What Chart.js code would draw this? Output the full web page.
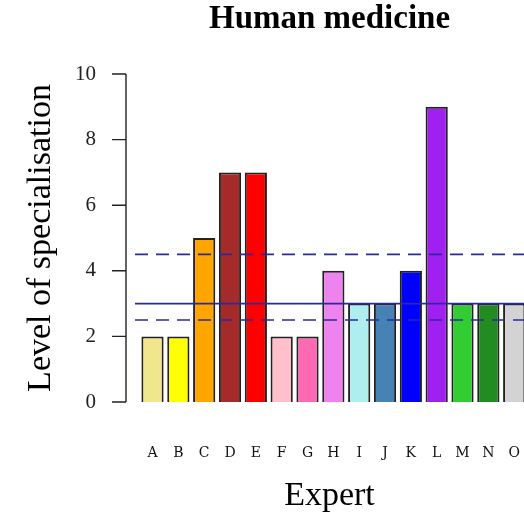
<!DOCTYPE html>
<html>
<head>
<meta charset="utf-8">
<script src="https://cdn.jsdelivr.net/npm/chart.js@4/dist/chart.umd.min.js"></script>
<style>
  html, body { margin: 0; padding: 0; background: #fff; }
  canvas { display: block; }
</style>
</head>
<body>
<canvas id="c" width="524" height="521"></canvas>
<script>
// ---- data ----
const experts = ['A','B','C','D','E','F','G','H','I','J','K','L','M','N','O'];
const specialisation = [2, 2, 5, 7, 7, 2, 2, 4, 3, 3, 4, 9, 3, 3, 3];
const yTicks = [0, 2, 4, 6, 8, 10];
const meanLevel = [3];
const intervalLevels = [2.5, 4.5];

// ---- styles ----
const barColors = ['#F0E68C','#FFFF00','#FFA500','#A52A2A','#FF0000','#FFC0CB','#FF69B4',
  '#EE82EE','#AFEEEE','#4682B4','#0000FF','#A020F0','#32CD32','#228B22','#D3D3D3'];
const lineColor = '#2a2aa0';
const X_MIN = -0.678, X_MAX = 14.38;

const refDataset = (v, dashed) => ({
  type: 'line',
  data: [{x: X_MIN, y: v}, {x: X_MAX, y: v}],
  borderColor: lineColor,
  borderWidth: 1.6,
  borderDash: dashed ? [13, 8] : [],
  pointRadius: 0,
  fill: false,
  order: 1
});

const yAxisPlugin = {
  id: 'rYAxis',
  afterDraw(chart) {
    const y = chart.scales.y;
    const ctx = chart.ctx;
    const ax = chart.chartArea.left - 9;
    ctx.save();
    ctx.strokeStyle = '#222';
    ctx.lineWidth = 1.4;
    ctx.beginPath();
    ctx.moveTo(ax, y.getPixelForValue(yTicks[0]));
    ctx.lineTo(ax, y.getPixelForValue(yTicks[yTicks.length - 1]));
    yTicks.forEach(t => {
      const py = y.getPixelForValue(t);
      ctx.moveTo(ax, py);
      ctx.lineTo(ax - 14, py);
    });
    ctx.stroke();
    ctx.restore();
  }
};

new Chart(document.getElementById('c'), {
  type: 'bar',
  data: {
    datasets: [
      {
        data: specialisation.map((v, i) => ({x: i, y: v})),
        backgroundColor: barColors,
        borderColor: '#222',
        borderWidth: 2,
        barPercentage: 0.86,
        categoryPercentage: 1.0,
        order: 2
      },
      ...meanLevel.map(v => refDataset(v, false)),
      ...intervalLevels.map(v => refDataset(v, true))
    ]
  },
  options: {
    responsive: false,
    animation: false,
    layout: { padding: 0 },
    plugins: {
      legend: { display: false },
      tooltip: { enabled: false },
      title: {
        display: true,
        text: 'Human medicine',
        fullSize: false,
        color: '#000',
        font: { family: 'Liberation Serif', size: 33, weight: 'bold' },
        padding: { top: 0, bottom: 34.4 }
      }
    },
    scales: {
      x: {
        type: 'linear',
        offset: false,
        min: X_MIN,
        max: X_MAX,
        grid: { display: false, drawTicks: true, tickLength: 42.8, offset: false },
        border: { display: false },
        afterBuildTicks(scale) {
          scale.ticks = experts.map((_, i) => ({ value: i }));
        },
        afterFit(scale) {
          scale.height = 119;
          scale.paddingLeft = 0;
          scale.paddingRight = 0;
        },
        ticks: {
          padding: 0,
          autoSkip: false,
          maxRotation: 0,
          color: '#111',
          font: { family: 'DejaVu Serif', size: 14 },
          callback: (v) => experts[v] ?? ''
        },
        title: {
          display: true,
          text: 'Expert',
          color: '#000',
          font: { family: 'Liberation Serif', size: 34 },
          padding: { top: 4.6, bottom: 4.6 }
        }
      },
      y: {
        min: 0,
        max: 10,
        grid: { display: false, drawTicks: false },
        border: { display: false },
        afterBuildTicks(scale) {
          scale.ticks = yTicks.map(v => ({ value: v }));
        },
        afterFit(scale) { scale.width = 135; },
        ticks: {
          padding: 39,
          color: '#222',
          font: { family: 'Liberation Serif', size: 21 }
        },
        title: {
          display: true,
          text: 'Level of specialisation',
          color: '#000',
          font: { family: 'Liberation Serif', size: 34 },
          padding: { top: 20.6, bottom: 20.6 }
        }
      }
    }
  },
  plugins: [yAxisPlugin]
});
</script>
</body>
</html>
